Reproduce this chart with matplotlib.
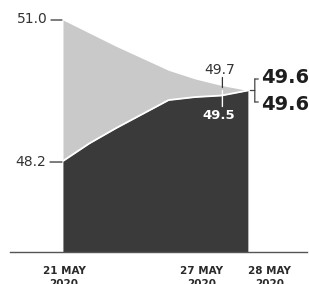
import matplotlib.pyplot as plt
from matplotlib.transforms import offset_copy

# days after 21 May 2020
days = [0, 1, 2, 3, 4, 5, 6, 7]
upper = [51.0, 50.74, 50.48, 50.24, 50.00, 49.83, 49.70, 49.60]
lower = [48.2, 48.55, 48.85, 49.13, 49.41, 49.47, 49.50, 49.60]

tick_days = [0, 6, 7]
tick_labels = ["21 MAY\n2020", "27 MAY\n2020", "28 MAY\n2020"]
tick_align = ["center", "right", "left"]

base = 46.39

fig = plt.figure(figsize=(3.09, 2.84), dpi=100)
ax = fig.add_axes([0, 0, 1, 1])
ax.set_xlim(-2.386, 9.318)
ax.set_ylim(45.758, 51.397)
ax.axis("off")


def off(dx, dy):
    return offset_copy(ax.transData, fig, x=dx, y=dy, units="dots")


def seg(x, y, p0, p1, color="#333333", lw=0.9):
    ax.annotate("", xy=(x, y), xycoords=off(*p1), xytext=(x, y), textcoords=off(*p0),
                arrowprops=dict(arrowstyle="-", color=color, lw=lw, shrinkA=0, shrinkB=0))


ax.fill_between(days, upper, base, color="#c9c9c9", lw=0)
ax.fill_between(days, lower, base, color="#3a3a3a", lw=0)
ax.plot(days, lower, color="white", lw=1.3, solid_capstyle="butt")
ax.plot([-2.0, 9.24], [base, base], color="#555555", lw=1.0)

# left value labels
ax.text(0, upper[0], "51.0", transform=off(-15, 1), ha="right", va="center",
        fontsize=10, color="#333333")
seg(0, upper[0], (-12, 0), (-1, 0))
ax.text(0, lower[0], "48.2", transform=off(-17, -1), ha="right", va="center",
        fontsize=10, color="#333333")
seg(0, lower[0], (-13, -1), (-1, -1))

# 27 May labels
ax.text(6, upper[6], "49.7", transform=off(-2, 15), ha="center", va="center",
        fontsize=10, color="#333333")
seg(6, upper[6], (1, 8), (1, -2))
seg(6, lower[6], (1, 5), (1, -11), color="white", lw=1.0)
ax.text(6, lower[6], "49.5", transform=off(-3, -20), ha="center", va="center",
        fontsize=9.5, fontweight="bold", color="white")

# 28 May bracket and labels
seg(7, upper[7], (7, 11.5), (7, -11.5), color="#444444")
seg(7, upper[7], (7, 11.5), (10.5, 11.5), color="#444444")
seg(7, upper[7], (7, -11.5), (10.5, -11.5), color="#444444")
seg(7, upper[7], (2.5, 0), (7, 0), color="#444444")
ax.text(7, upper[7], "49.6", transform=off(13, 13.5), ha="left", va="center",
        fontsize=14, fontweight="bold", color="#1e1e1e")
ax.text(7, lower[7], "49.6", transform=off(13, -13.5), ha="left", va="center",
        fontsize=14, fontweight="bold", color="#1e1e1e")

# date labels
dx = {"center": 1, "right": 2, "left": 0}
for d, lab, ha in zip(tick_days, tick_labels, tick_align):
    ax.text(d, base, lab, transform=off(dx[ha], -14), ha=ha, va="top",
            fontsize=7.5, fontweight="bold", color="#2a2a2a", linespacing=1.3,
            multialignment="center")

fig.savefig("out.png", dpi=100)
